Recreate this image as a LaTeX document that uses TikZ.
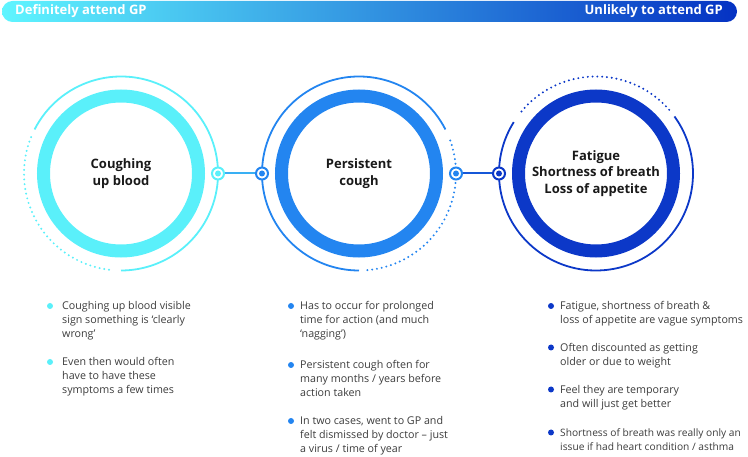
\documentclass[tikz,border=0pt]{standalone}
\usepackage{fontspec}
\setmainfont{Open Sans}
\definecolor{cyanring}{RGB}{90,240,250}
\definecolor{bluering}{RGB}{35,133,240}
\definecolor{navyring}{RGB}{12,56,200}
\definecolor{pointtext}{RGB}{60,60,60}
\tikzset{
  bigring/.style={circle, draw=#1, line width=13pt, minimum size=155pt, inner sep=0pt,
    align=center, font=\fontsize{13}{16.5}\selectfont\bfseries, text=black!90},
  smallring/.style={circle, draw=#1, fill=white, line width=2pt, minimum size=12pt, inner sep=0pt,
    path picture={\fill[#1] (path picture bounding box.center) circle (3pt);}},
  solidarc/.style={draw=#1, line width=1.8pt},
  dotarc/.style={draw=#1, line width=2.2pt, line cap=round, dash pattern=on 0pt off 4.8pt},
  point/.style={anchor=north west, inner sep=0pt, align=left, text=pointtext,
    font=\fontsize{10.7}{14}\selectfont},
  bartext/.style={inner sep=0pt, text=white, font=\fontsize{13}{15}\selectfont\bfseries}
}
\begin{document}
\begin{tikzpicture}[x=1pt, y=-1pt]
  \useasboundingbox (0,0) rectangle (748,457);

  % scale bar
  \shade[left color={rgb,255:red,95;green,245;blue,255}, middle color={rgb,255:red,40;green,140;blue,255},
    right color={rgb,255:red,5;green,50;blue,195}, rounded corners=10.5pt] (2,1) rectangle (737,22);
  \node[bartext, anchor=west] (definite) at (15,11.5) {Definitely attend GP};
  \node[bartext, anchor=east] (unlikely) at (723,11.5) {Unlikely to attend GP};

  % the three circles
  \node[bigring=cyanring] (c1) at (121,173.5) {Coughing\\up blood};
  \node[bigring=bluering] (c2) at (359,173.5) {Persistent\\cough};
  \node[bigring=navyring] (c3) at (596,173.5) {Fatigue\\Shortness of breath\\Loss of appetite};

  \draw[solidarc=cyanring] (c1.center) ++(153:97pt) arc[start angle=153, end angle=-90, radius=97pt];
  \draw[dotarc=cyanring] (c1.center) ++(158:97pt) arc[start angle=158, end angle=265, radius=97pt];
  \draw[solidarc=bluering] (c2.center) ++(27:97pt) arc[start angle=27, end angle=270, radius=97pt];
  \draw[dotarc=bluering] (c2.center) ++(-85:97pt) arc[start angle=-85, end angle=22, radius=97pt];
  \draw[solidarc=navyring] (c3.center) ++(148:97pt) arc[start angle=148, end angle=396, radius=97pt];
  \draw[dotarc=navyring] (c3.center) ++(41:97pt) arc[start angle=41, end angle=143, radius=97pt];

  % links
  \node[smallring=cyanring] (n1r) at (218,173.5) {};
  \node[smallring=bluering] (n2l) at (262,173.5) {};
  \node[smallring=bluering] (n2r) at (456,173.5) {};
  \node[smallring=navyring] (n3l) at (499,173.5) {};
  \draw[line width=2pt, bluering!60!cyanring] (n1r) -- (n2l);
  \draw[line width=2pt, navyring!60!bluering] (n2r) -- (n3l);

  % notes
  \node[point] (p11) at (62,301.5) {Coughing up blood visible\\sign something is `clearly\\wrong'};
  \node[point] (p12) at (62,357.5) {Even then would often\\have to have these\\symptoms a few times};
  \node[point] (p21) at (300,301.5) {Has to occur for prolonged\\time for action (and much\\`nagging')};
  \node[point] (p22) at (300,360.5) {Persistent cough often for\\many months / years before\\action taken};
  \node[point] (p23) at (300,416.5) {In two cases, went to GP and\\felt dismissed by doctor -- just\\a virus / time of year};
  \node[point] (p31) at (560,301.5) {Fatigue, shortness of breath \&\\loss of appetite are vague symptoms};
  \node[point] (p32) at (560,343) {Often discounted as getting\\older or due to weight};
  \node[point] (p33) at (560,385) {Feel they are temporary\\and will just get better};
  \node[point, font=\fontsize{10.2}{14}\selectfont] (p34) at (560,428) {Shortness of breath was really only an\\issue if had heart condition / asthma};

  \foreach \p in {p11,p12}
    \fill[cyanring] ([xshift=-12pt, yshift=-4.5pt]\p.north west) circle (3pt);
  \foreach \p in {p21,p22,p23}
    \fill[bluering] ([xshift=-9pt, yshift=-4.5pt]\p.north west) circle (3pt);
  \foreach \p in {p31,p32,p33,p34}
    \fill[navyring] ([xshift=-9pt, yshift=-4.5pt]\p.north west) circle (3pt);
\end{tikzpicture}
\end{document}
